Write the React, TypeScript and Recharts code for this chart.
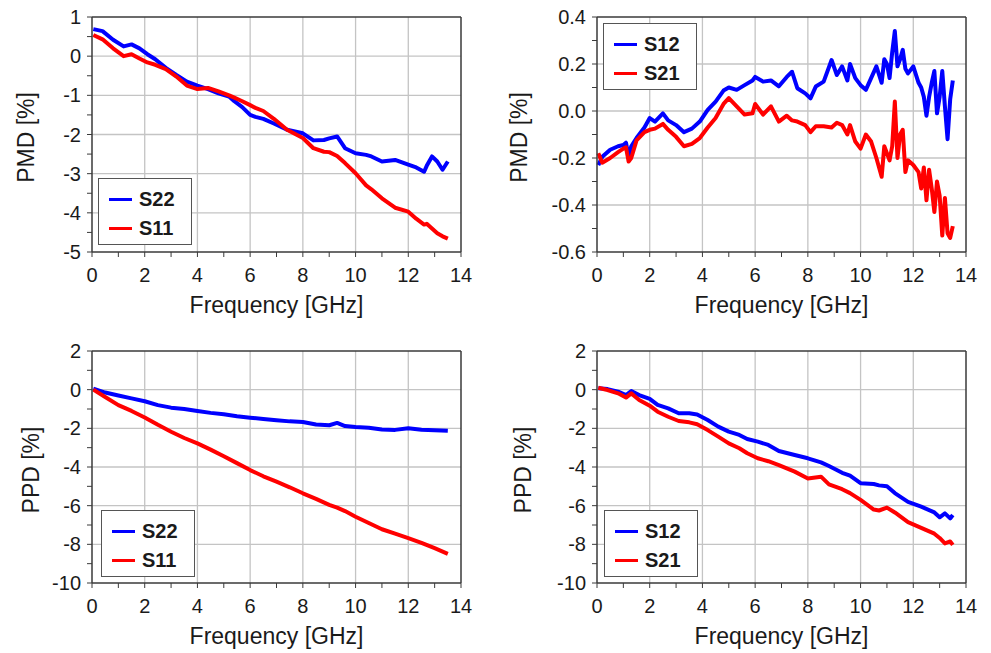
import { Label, Legend, Line, LineChart, ReferenceLine, XAxis, YAxis } from 'recharts';

// PMD, reflection (S22 / S11)
const PMD_REFL_FREQ = [
  0.05, 0.4, 0.8, 1.2, 1.5, 1.8, 2.1, 2.4, 2.8, 3.2, 3.6, 4.0, 4.4, 4.8, 5.2, 5.4, 5.7, 6.0, 6.2, 6.5, 6.9,
  7.4, 8.0, 8.4, 8.8, 9.0, 9.3, 9.6, 10.0, 10.4, 10.6, 11.0, 11.5, 12.0, 12.3, 12.6, 12.7, 12.9, 13.1, 13.3, 13.5,
];
const PMD_S22 = [
  0.69, 0.64, 0.42, 0.25, 0.3, 0.2, 0.05, -0.08, -0.3, -0.48, -0.65, -0.75, -0.84, -0.95, -1.03, -1.15, -1.3,
  -1.5, -1.55, -1.6, -1.72, -1.88, -1.97, -2.15, -2.14, -2.1, -2.05, -2.35, -2.48, -2.52, -2.56, -2.69, -2.65,
  -2.77, -2.84, -2.95, -2.8, -2.56, -2.69, -2.9, -2.69,
];
const PMD_S11 = [
  0.54, 0.43, 0.2, 0.0, 0.05, -0.06, -0.16, -0.22, -0.33, -0.52, -0.75, -0.84, -0.81, -0.9, -1.0, -1.06, -1.15,
  -1.25, -1.32, -1.4, -1.6, -1.88, -2.09, -2.35, -2.44, -2.45, -2.55, -2.73, -2.99, -3.3, -3.4, -3.63, -3.87,
  -3.97, -4.15, -4.3, -4.28, -4.4, -4.52, -4.6, -4.66,
];

// PMD, transmission (S12 / S21)
const PMD_TRANS_FREQ = [
  0.05, 0.2, 0.5, 0.8, 1.0, 1.1, 1.2, 1.3, 1.5, 1.8, 2.0, 2.2, 2.5, 2.7, 3.0, 3.3, 3.6, 3.9, 4.2, 4.5, 4.8, 5.0,
  5.3, 5.6, 5.9, 6.0, 6.3, 6.6, 6.9, 7.2, 7.4, 7.6, 7.9, 8.1, 8.3, 8.6, 8.9, 9.1, 9.3, 9.5, 9.6, 9.8, 10.0, 10.2,
  10.4, 10.6, 10.8, 10.9, 11.0, 11.1, 11.2, 11.3, 11.4, 11.5, 11.6, 11.7, 11.8, 12.0, 12.2, 12.3, 12.4, 12.5,
  12.6, 12.7, 12.8, 12.9, 13.0, 13.1, 13.2, 13.3, 13.4, 13.5,
];
const PMD_S12 = [
  -0.23, -0.195, -0.165, -0.15, -0.145, -0.135, -0.195, -0.15, -0.115, -0.07,
  -0.03, -0.045, -0.01, -0.04, -0.06, -0.09, -0.075, -0.045, 0.005, 0.04,
  0.087, 0.1, 0.09, 0.11, 0.13, 0.145, 0.125, 0.13, 0.105, 0.145,
  0.167, 0.097, 0.075, 0.054, 0.104, 0.125, 0.217, 0.153, 0.19, 0.13,
  0.2, 0.14, 0.11, 0.09, 0.14, 0.19, 0.12, 0.22, 0.2, 0.14,
  0.25, 0.34, 0.19, 0.22, 0.26, 0.18, 0.16, 0.19, 0.12, 0.1,
  0.06, -0.02, 0.06, 0.12, 0.17, -0.01, 0.06, 0.17, 0.02, -0.12,
  0.05, 0.13,
];
const PMD_S21 = [
  -0.18, -0.22, -0.2, -0.175, -0.16, -0.155, -0.215, -0.2, -0.125, -0.09,
  -0.08, -0.075, -0.055, -0.08, -0.11, -0.15, -0.14, -0.115, -0.07, -0.03,
  0.03, 0.055, 0.02, -0.015, -0.01, 0.03, -0.015, 0.02, -0.045, -0.02,
  -0.04, -0.045, -0.06, -0.09, -0.065, -0.065, -0.07, -0.05, -0.06, -0.1,
  -0.06, -0.13, -0.16, -0.1, -0.13, -0.2, -0.28, -0.15, -0.18, -0.21,
  -0.15, 0.04, -0.2, -0.1, -0.08, -0.26, -0.21, -0.23, -0.26, -0.33,
  -0.24, -0.38, -0.25, -0.33, -0.43, -0.3, -0.36, -0.53, -0.37, -0.52,
  -0.54, -0.49,
];

// PPD, reflection (S22 / S11)
const PPD_REFL_FREQ = [
  0.05, 0.5, 1.0, 1.5, 2.0, 2.5, 3.0, 3.5, 4.0, 4.5, 5.0, 5.5, 6.0, 6.5, 7.0, 7.5, 8.0, 8.5, 9.0, 9.3, 9.6,
  10.0, 10.5, 11.0, 11.5, 12.0, 12.5, 13.0, 13.5,
];
const PPD_S22 = [
  0.05, -0.15, -0.3, -0.45, -0.6, -0.8, -0.93, -1.0, -1.1, -1.2, -1.27, -1.37, -1.45, -1.52, -1.58, -1.64,
  -1.67, -1.8, -1.84, -1.72, -1.88, -1.93, -1.97, -2.06, -2.08, -2.0, -2.07, -2.1, -2.13,
];
const PPD_S11 = [
  0.0, -0.38, -0.8, -1.1, -1.44, -1.82, -2.18, -2.5, -2.78, -3.1, -3.44, -3.8, -4.16, -4.48, -4.76, -5.05,
  -5.36, -5.65, -5.96, -6.1, -6.28, -6.57, -6.9, -7.22, -7.45, -7.68, -7.92, -8.2, -8.49,
];

// PPD, transmission (S12 / S21)
const PPD_TRANS_FREQ = [
  0.05, 0.4, 0.8, 1.1, 1.3, 1.6, 2.0, 2.3, 2.7, 3.1, 3.5, 3.8, 4.2, 4.6, 5.0, 5.4, 5.7, 6.1, 6.5, 6.9, 7.5,
  8.0, 8.5, 8.8, 9.3, 9.6, 10.0, 10.5, 10.7, 11.0, 11.3, 11.8, 12.3, 12.8, 13.0, 13.2, 13.4, 13.5,
];
const PPD_S12 = [
  0.07, 0.03, -0.1, -0.28, -0.07, -0.28, -0.48, -0.79, -0.97, -1.22, -1.22, -1.28, -1.57, -1.91, -2.17,
  -2.34, -2.55, -2.69, -2.86, -3.17, -3.38, -3.55, -3.76, -3.95, -4.3, -4.45, -4.84, -4.88, -4.95, -5.0,
  -5.35, -5.8, -6.05, -6.35, -6.6, -6.4, -6.66, -6.48,
];
const PPD_S21 = [
  0.1, -0.02, -0.19, -0.41, -0.19, -0.53, -0.83, -1.14, -1.4, -1.62, -1.69, -1.79, -2.09, -2.43, -2.78,
  -3.03, -3.29, -3.55, -3.7, -3.9, -4.24, -4.59, -4.5, -4.9, -5.15, -5.35, -5.7, -6.2, -6.25, -6.1, -6.35,
  -6.85, -7.15, -7.45, -7.67, -7.95, -7.85, -8.03,
];

const FREQ_TICKS = [0, 1, 2, 3, 4, 5, 6, 7, 8, 9, 10, 11, 12, 13, 14];
const FREQ_LABELS = [0, 2, 4, 6, 8, 10, 12, 14];
const FREQ_GRID = [2, 4, 6, 8, 10, 12];

const PMD_REFL_TICKS = [-5, -4.5, -4, -3.5, -3, -2.5, -2, -1.5, -1, -0.5, 0, 0.5, 1];
const PMD_REFL_LABELS = [-5, -4, -3, -2, -1, 0, 1];
const PMD_TRANS_TICKS = [-0.6, -0.5, -0.4, -0.3, -0.2, -0.1, 0, 0.1, 0.2, 0.3, 0.4];
const PMD_TRANS_LABELS = [-0.6, -0.4, -0.2, 0, 0.2, 0.4];
const PPD_TICKS = [-10, -9, -8, -7, -6, -5, -4, -3, -2, -1, 0, 1, 2];
const PPD_LABELS = [-10, -8, -6, -4, -2, 0, 2];

const FONT = '"Liberation Sans", Arial, sans-serif';
const INK = '#1a1a1a';
const FRAME = '#3a3a3a';
const GRID = '#c4c4c4';
const BLUE = '#0000ff';
const RED = '#ff0000';

const isIn = (list: number[], v: number) => list.some((m) => Math.abs(m - v) < 1e-9);

type PanelProps = {
  left: number;
  top: number;
  width: number;
  height: number;
  marginTop: number;
  marginRight: number;
  yAxisWidth: number;
  xAxisHeight: number;
  freq: number[];
  blue: number[];
  red: number[];
  blueName: string;
  redName: string;
  yTicks: number[];
  yLabels: number[];
  decimals: number;
  yTitle: string;
  yTitleX: number;
  legendLeft: number;
  legendTop: number;
};

function Panel(p: PanelProps) {
  const rows = p.freq.map((f, i) => ({ f, blue: p.blue[i], red: p.red[i] }));
  const yMin = p.yTicks[0];
  const yMax = p.yTicks[p.yTicks.length - 1];
  const innerGridY = p.yLabels.filter((v) => v !== yMin && v !== yMax);

  const xTick = ({ x, y, payload }: any) =>
    isIn(FREQ_LABELS, payload.value) ? (
      <text x={x} y={y + 25} textAnchor="middle" fontSize={20} fontFamily={FONT} fill={INK}>
        {payload.value}
      </text>
    ) : (
      <g />
    );

  const yTick = ({ x, y, payload }: any) =>
    isIn(p.yLabels, payload.value) ? (
      <text x={x - 6} y={y + 7} textAnchor="end" fontSize={20} fontFamily={FONT} fill={INK}>
        {Number(payload.value).toFixed(p.decimals)}
      </text>
    ) : (
      <g />
    );

  const legendItems = [
    { name: p.blueName, color: BLUE },
    { name: p.redName, color: RED },
  ];

  const legendBox = () => (
    <div
      style={{
        width: 94,
        height: 67,
        boxSizing: 'border-box',
        border: '1px solid #555',
        background: '#fff',
        paddingTop: 6,
        fontFamily: FONT,
        fontWeight: 'bold',
        fontSize: 20,
        color: INK,
      }}
    >
      {legendItems.map((e) => (
        <div key={e.name} style={{ display: 'flex', alignItems: 'center', height: 29 }}>
          <span style={{ display: 'inline-block', width: 23, height: 3, marginLeft: 10, marginRight: 7, background: e.color }} />
          <span>{e.name}</span>
        </div>
      ))}
    </div>
  );

  return (
    <div style={{ position: 'absolute', left: p.left, top: p.top }}>
      <LineChart
        width={p.width}
        height={p.height}
        data={rows}
        margin={{ top: p.marginTop, right: p.marginRight, left: 0, bottom: 0 }}
      >
        <XAxis
          dataKey="f"
          type="number"
          domain={[0, 14]}
          ticks={FREQ_TICKS}
          interval={0}
          height={p.xAxisHeight}
          tickSize={5}
          tickMargin={0}
          tick={xTick}
          tickLine={{ stroke: FRAME }}
          axisLine={{ stroke: FRAME, strokeWidth: 1.5 }}
        >
          <Label
            content={({ viewBox }: any) => (
              <text
                x={viewBox.x + viewBox.width / 2}
                y={viewBox.y + 61}
                textAnchor="middle"
                fontSize={23}
                fontFamily={FONT}
                fill={INK}
              >
                Frequency [GHz]
              </text>
            )}
          />
        </XAxis>
        <YAxis
          type="number"
          domain={[yMin, yMax]}
          ticks={p.yTicks}
          interval={0}
          width={p.yAxisWidth}
          tickSize={5}
          tickMargin={0}
          tick={yTick}
          tickLine={{ stroke: FRAME }}
          axisLine={{ stroke: FRAME, strokeWidth: 1.5 }}
        >
          <Label
            content={({ viewBox }: any) => {
              const cx = viewBox.x + p.yTitleX;
              const cy = viewBox.y + viewBox.height / 2 + 3;
              return (
                <text
                  x={cx}
                  y={cy}
                  transform={`rotate(-90 ${cx} ${cy})`}
                  textAnchor="middle"
                  dominantBaseline="central"
                  fontSize={23}
                  fontFamily={FONT}
                  fill={INK}
                >
                  {p.yTitle}
                </text>
              );
            }}
          />
        </YAxis>
        {FREQ_GRID.map((v) => (
          <ReferenceLine key={`gx${v}`} x={v} stroke={GRID} strokeWidth={1.3} />
        ))}
        {innerGridY.map((v) => (
          <ReferenceLine key={`gy${v}`} y={v} stroke={GRID} strokeWidth={1.3} />
        ))}
        <ReferenceLine x={14} stroke={FRAME} strokeWidth={1.5} />
        <ReferenceLine y={yMax} stroke={FRAME} strokeWidth={1.5} />
        <Legend
          layout="horizontal"
          verticalAlign="middle"
          align="center"
          wrapperStyle={{ left: p.legendLeft, top: p.legendTop, width: 'auto', height: 'auto' }}
          content={legendBox}
        />
        <Line
          dataKey="blue"
          name={p.blueName}
          type="linear"
          stroke={BLUE}
          strokeWidth={4}
          strokeLinejoin="round"
          dot={false}
          isAnimationActive={false}
        />
        <Line
          dataKey="red"
          name={p.redName}
          type="linear"
          stroke={RED}
          strokeWidth={4}
          strokeLinejoin="round"
          dot={false}
          isAnimationActive={false}
        />
      </LineChart>
    </div>
  );
}

export default function App() {
  return (
    <div style={{ position: 'absolute', left: 0, top: 0, width: 991, height: 653, background: '#fff' }}>
      <Panel
        left={0}
        top={0}
        width={490}
        height={325}
        marginTop={17}
        marginRight={29}
        yAxisWidth={92}
        xAxisHeight={73}
        freq={PMD_REFL_FREQ}
        blue={PMD_S22}
        red={PMD_S11}
        blueName="S22"
        redName="S11"
        yTicks={PMD_REFL_TICKS}
        yLabels={PMD_REFL_LABELS}
        decimals={0}
        yTitle="PMD [%]"
        yTitleX={26}
        legendLeft={98}
        legendTop={178}
      />
      <Panel
        left={490}
        top={0}
        width={500}
        height={325}
        marginTop={17}
        marginRight={24}
        yAxisWidth={107}
        xAxisHeight={73}
        freq={PMD_TRANS_FREQ}
        blue={PMD_S12}
        red={PMD_S21}
        blueName="S12"
        redName="S21"
        yTicks={PMD_TRANS_TICKS}
        yLabels={PMD_TRANS_LABELS}
        decimals={1}
        yTitle="PMD [%]"
        yTitleX={29}
        legendLeft={113}
        legendTop={23}
      />
      <Panel
        left={0}
        top={330}
        width={490}
        height={323}
        marginTop={21}
        marginRight={29}
        yAxisWidth={92}
        xAxisHeight={70}
        freq={PPD_REFL_FREQ}
        blue={PPD_S22}
        red={PPD_S11}
        blueName="S22"
        redName="S11"
        yTicks={PPD_TICKS}
        yLabels={PPD_LABELS}
        decimals={0}
        yTitle="PPD [%]"
        yTitleX={31}
        legendLeft={101}
        legendTop={180}
      />
      <Panel
        left={490}
        top={330}
        width={500}
        height={323}
        marginTop={21}
        marginRight={24}
        yAxisWidth={107}
        xAxisHeight={70}
        freq={PPD_TRANS_FREQ}
        blue={PPD_S12}
        red={PPD_S21}
        blueName="S12"
        redName="S21"
        yTicks={PPD_TICKS}
        yLabels={PPD_LABELS}
        decimals={0}
        yTitle="PPD [%]"
        yTitleX={33}
        legendLeft={114}
        legendTop={180}
      />
    </div>
  );
}
